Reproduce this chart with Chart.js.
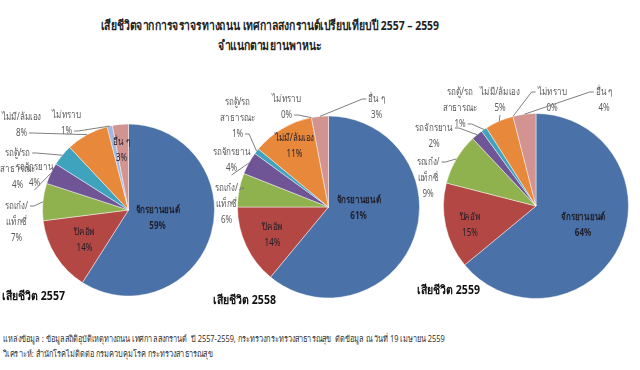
<!DOCTYPE html>
<html>
<head>
<meta charset="utf-8">
<script src="https://cdn.jsdelivr.net/npm/chart.js@4/dist/chart.umd.min.js"></script>
<style>
  body { margin: 0; background: #fff; font-family: Tahoma, "Noto Sans", sans-serif; }
  #wrap { position: relative; width: 640px; height: 370px; overflow: hidden; }
  .box { position: absolute; }
  .txt { position: absolute; white-space: nowrap; line-height: 1; transform: translateY(-50%) scaleX(0.82); transform-origin: 0 50%; }
  .title { left: 270px; font-weight: bold; font-size: 13px; color: #222; transform: translate(-50%, -50%) scaleX(0.8); transform-origin: 50% 50%; }
  .cap { font-weight: bold; font-size: 12px; color: #111; transform: translateY(-50%) scaleX(0.88); }
  .foot { left: 3px; font-size: 9px; color: #333; }
</style>
</head>
<body>
<div id="wrap">
  <div class="txt title" style="top:25px">เสียชีวิตจากการจราจรทางถนน เทศกาลสงกรานต์เปรียบเทียบปี 2557 – 2559</div>
  <div class="txt title" style="top:45px">จำแนกตามยานพาหนะ</div>

  <div class="box" style="left:0;top:100px;width:220px;height:200px"><canvas id="pie1"></canvas></div>
  <div class="box" style="left:205px;top:90px;width:215px;height:215px"><canvas id="pie2"></canvas></div>
  <div class="box" style="left:405px;top:80px;width:235px;height:225px"><canvas id="pie3"></canvas></div>

  <div class="txt cap" style="left:2px;top:296px">เสียชีวิต 2557</div>
  <div class="txt cap" style="left:213px;top:300px">เสียชีวิต 2558</div>
  <div class="txt cap" style="left:417px;top:290px">เสียชีวิต 2559</div>

  <div class="txt foot" style="top:338px">แหล่งข้อมูล : ข้อมูลสถิติอุบัติเหตุทางถนน เทศกาลสงกรานต์&nbsp; ปี 2557-2559, กระทรวงกระทรวงสาธารณสุข&nbsp; ตัดข้อมูล ณ วันที่ 19 เมษายน 2559</div>
  <div class="txt foot" style="top:353px">วิเคราะห์: สำนักโรคไม่ติดต่อ กรมควบคุมโรค กระทรวงสาธารณสุข</div>
</div>

<script>
// ประเภทยานพาหนะ (เรียงตามเข็มนาฬิกาจากด้านบน)
const vehicles = ['จักรยานยนต์', 'ปิคอัพ', 'รถเก๋ง/\nแท็กซี่', 'รถจักรยาน', 'รถตู้/รถ\nสาธารณะ', 'ไม่มี/ล้มเอง', 'ไม่ทราบ', 'อื่น ๆ'];
const colors = ['#4A72A8', '#B34743', '#8FB24F', '#6F5595', '#3FA3BE', '#E8883A', '#A3B6DD', '#D39491'];

// ร้อยละผู้เสียชีวิต
const deaths2557 = [59, 14, 7, 4, 4, 8, 1, 3];
const deaths2558 = [61, 14, 6, 4, 1, 11, 0, 3];
const deaths2559 = [64, 15, 9, 2, 1, 5, 0, 4];

// ตำแหน่งป้าย (เทียบกับจุดศูนย์กลางวงกลม) และป้ายที่อยู่ในชิ้น
const labelPos2557 = [[29, 0], [-44, 22], [-112, -4], [-94, -43], [-111, -57], [-107, -93], [-62, -95], [-7, -68]];
const labelPos2558 = [[30, -7], [-56, 20], [-102, -19], [-97, -55], [-91, -105], [-34, -69], [-42, -108], [48, -108]];
const labelPos2559 = [[47, 11], [-66, 11], [-108, -44], [-102, -78], [-76, -114], [-36, -114], [16, -114], [68, -114]];
const inside2557 = [0, 1, 7];
const inside2558 = [0, 1, 5];
const inside2559 = [0, 1];

const FONT = 'Tahoma, "Noto Sans", sans-serif';
const SX = 0.8;  // บีบตัวอักษรไทยให้แคบลง

const sliceLabels = {
    id: 'sliceLabels',
    afterDatasetsDraw(chart, args, opts) {
        const ctx = chart.ctx;
        const meta = chart.getDatasetMeta(0);
        const values = chart.data.datasets[0].data;
        ctx.save();
        ctx.textAlign = 'center';
        ctx.textBaseline = 'middle';
        meta.data.forEach((arc, i) => {
            const isIn = opts.inside.includes(i);
            const lines = vehicles[i].split('\n').concat(values[i] + '%');
            const lx = arc.x + opts.pos[i][0];
            const ly = arc.y + opts.pos[i][1];
            ctx.font = (i === 0 ? 'bold ' : '') + '10px ' + FONT;
            ctx.fillStyle = isIn ? '#1e1e2a' : '#595959';
            let left = Infinity, right = -Infinity;
            const rows = lines.map((t, k) => {
                const w = ctx.measureText(t).width * SX;
                const y = ly + k * 16;
                left = Math.min(left, lx - w / 2);
                right = Math.max(right, lx + w / 2);
                ctx.save();
                ctx.translate(lx, y);
                ctx.scale(SX, 1);
                ctx.fillText(t, 0, 0);
                ctx.restore();
                return { w, y };
            });
            if (isIn) return;
            // เส้นโยงป้าย
            const mid = (arc.startAngle + arc.endAngle) / 2;
            const ex = arc.x + Math.cos(mid) * arc.outerRadius;
            const ey = arc.y + Math.sin(mid) * arc.outerRadius;
            let near = rows[0];
            rows.forEach(r => { if (Math.abs(r.y - ey) < Math.abs(near.y - ey)) near = r; });
            ctx.strokeStyle = '#7f7f7f';
            ctx.lineWidth = 1;
            ctx.beginPath();
            if (ex > right) {
                const sx = lx + near.w / 2 + 2;
                ctx.moveTo(sx, near.y);
                ctx.lineTo(sx + 4, near.y);
            } else if (ex < left) {
                const sx = lx - rows[0].w / 2 - 2;
                ctx.moveTo(sx, rows[0].y);
                ctx.lineTo(sx - 4, rows[0].y);
            } else {
                ctx.moveTo(lx, rows[rows.length - 1].y + 7);
            }
            ctx.lineTo(ex, ey);
            ctx.stroke();
        });
        ctx.restore();
    }
};

function makePie(id, data, pos, inside, padding) {
    return new Chart(document.getElementById(id), {
        type: 'pie',
        data: {
            labels: vehicles,
            datasets: [{
                data: data,
                backgroundColor: colors,
                borderColor: 'rgba(255,255,255,0.45)',
                borderWidth: 1,
                hoverOffset: 0
            }]
        },
        options: {
            responsive: true,
            maintainAspectRatio: false,
            animation: false,
            events: [],
            layout: { padding: padding },
            plugins: {
                legend: { display: false },
                tooltip: { enabled: false },
                sliceLabels: { pos: pos, inside: inside }
            }
        },
        plugins: [sliceLabels]
    });
}

makePie('pie1', deaths2557, labelPos2557, inside2557, { left: 42, right: 5, top: 23, bottom: 3 });
makePie('pie2', deaths2558, labelPos2558, inside2558, { left: 32, right: 0, top: 25, bottom: 6 });
makePie('pie3', deaths2559, labelPos2559, inside2559, { left: 38, right: 11, top: 33, bottom: 6 });
</script>
</body>
</html>
